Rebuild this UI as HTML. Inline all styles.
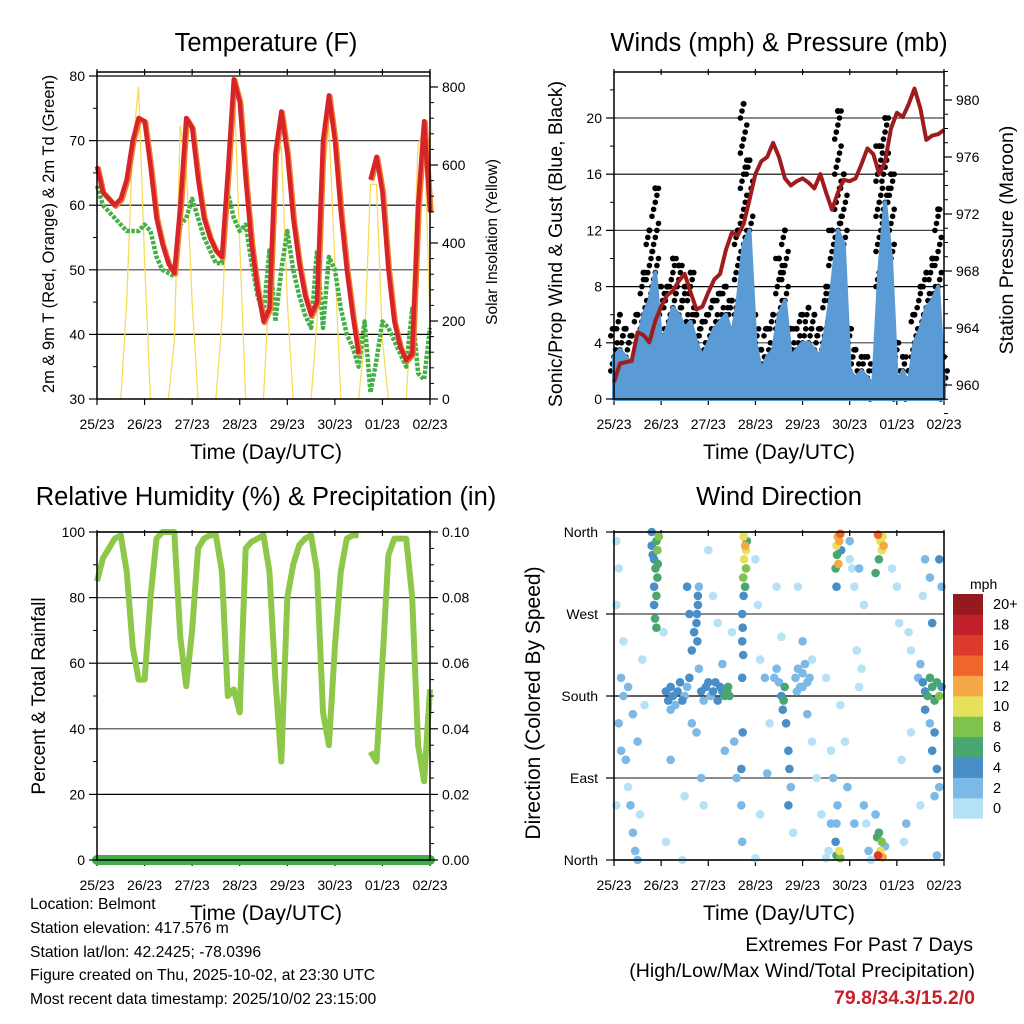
<!DOCTYPE html>
<html><head><meta charset="utf-8"><style>
html,body{margin:0;padding:0;background:#fff;}
svg{display:block;font-family:"Liberation Sans",Arial,sans-serif;}
</style></head><body>
<svg id="s" width="1024" height="1024" viewBox="0 0 1024 1024" xmlns="http://www.w3.org/2000/svg">
<g id="g"></g>
<g font-size="15.7" fill="#000">
<text x="30" y="909">Location: Belmont</text>
<text x="30" y="933">Station elevation: 417.576 m</text>
<text x="30" y="957">Station lat/lon: 42.2425; -78.0396</text>
<text x="30" y="980">Figure created on Thu, 2025-10-02, at 23:30 UTC</text>
<text x="30" y="1004">Most recent data timestamp: 2025/10/02 23:15:00</text>
</g>
<g font-size="19.5" text-anchor="end">
<text x="973" y="951">Extremes For Past 7 Days</text>
<text x="975" y="977">(High/Low/Max Wind/Total Precipitation)</text>
<text x="975" y="1004" fill="#c8202a" font-weight="bold">79.8/34.3/15.2/0</text>
</g>
</svg>
<script>
// ---- data (3-hour samples, t = 0..7 days) ----
const dayLabels=["25/23","26/23","27/23","28/23","29/23","30/23","01/23","02/23"];
const tempF=[66,62,61,60,61,64,70,73.5,73, 66,58,54,51,49.5,60,73.5,72, 64,58,55,53,52,65,79.5,76, 64,54,47,42,44,68,74.5,68, 58,51,46,43,45,70,77,70, 59,50,43,37,null,64,67.5,62, 50,42,38,36,37,60,73,59];
const dewF=[63,60,59,58,57,56,56,56,57, 56,52,50,49.5,49,57,58,61, 58,55,53,51,51,62,58,56, 57,51,46,43,53,42,50,56, 50,46,43,41,53,41,52,50, 44,40,38,35,42,31,36,42, 41,39,37,35,44,34,33,41];
const solar=[0,0,0,0,0,250,650,800,350, 0,0,0,0,150,700,600,250, 0,0,0,0,200,550,820,400, 0,0,0,0,300,600,650,250, 0,0,0,0,200,550,700,350, 0,0,0,0,150,550,550,150, 0,0,0,0,250,650,700,200];
const windMph=[3,3.5,3,2.5,4,6,7,9,4, 5,6.5,6,5,5.5,4,3,4, 5,5.5,6,4.5,7,11,12,4, 2,3,3.5,6,7,3,3.5,4, 4,3.5,3,5,8,12,11,2, 1.5,2,1.5,1,9,14,10,1, 2,1,4,5,6.5,7,8,1];
const gustMph=[5,6,5,4.5,6,9,12,15,8, 8,10,9.5,8,9,6,5.5,6, 7,7.5,8,7,12,21,17,6, 3.5,5,6,10,12,5,5,6, 6.5,6,5,8,12,20.5,16,5, 3.5,3,3,2,18,20,16,4, 3,2,6,8,9,10,13.5,3];
const pressMb=[960.2,961.5,961.6,961.7,963.7,963.5,963,964.5,965.5, 966.3,966.6,967.3,967.8,966.5,965.3,965.5,966.5, 967.4,967.8,969.5,970.7,970.5,971.3,973,974.8, 975.7,976,977,976,974.5,974,974.3,974.5, 974.2,973.8,974.8,973.5,972.3,973.5,974.4,974.3, 974.5,975.5,976.6,976.2,974.8,975.7,978,979.1, 978.8,979.7,980.8,979.4,977.2,977.5,977.6,977.9];
const rhPct=[85,92,95,98,99,88,65,55,55, 80,98,100,100,100,68,53,70, 95,98,99,99,88,50,52,45, 95,97,98,99,88,55,30,80, 90,96,98,99,88,45,35,65, 88,98,99,99,null,33,30,60, 93,98,98,98,80,35,24,52];
const precipIn=[0,0,0,0,0,0,0,0];
const dirTime=[0.80,0.85,0.90,0.88,0.92,0.85,0.95,0.90,0.82,0.93, 0.85,0.87,0.90,0.80,0.92,
 2.75,2.78,2.80,2.76,2.80,2.74,2.78,2.82,2.75,2.72, 2.73,2.72,2.74,2.72,2.73,
 4.75,4.78,4.72,4.80,4.73,4.76,4.70,4.72,4.82,4.78, 4.72,4.80,4.70,4.72,4.74,
 5.6,5.65,5.7,5.68,5.72,5.62,5.55,5.6,5.65,5.68, 5.62,5.7,5.75,5.58,5.55,
 1.1,1.15,1.2,1.25,1.3,1.35,1.4,1.45,1.5,1.55, 1.6,1.65,1.7,1.75,1.8,1.85,1.9,1.95,2.0,2.05, 2.1,2.15,2.2,2.25,2.3,2.35,2.4,2.45,2.42,1.2,
 3.55,3.6,3.62,3.58,3.5,3.65,3.7,3.72,3.45,3.4, 3.85,3.9,3.95,4.0,4.05,4.1,4.15,3.88,4.0,4.2,
 6.45,6.55,6.6,6.65,6.7,6.75,6.8,6.85,6.9,6.95, 6.6,6.7,6.8,6.75,6.85,6.9,6.5,6.3,6.9,6.95,
 0.05,0.1,0.05,0.15,0.2,0.1,0.25,0.3,0.35,0.4, 0.45,0.5,0.2,0.3,0.4,0.5,0.6,0.65,0.55,0.15,
 1.05,1.1,1.2,1.45,1.5,1.55,1.6,1.65,1.75,1.85, 1.9,2.0,2.1,2.2,2.3,2.35,2.5,2.55,2.6,2.7,
 2.72,2.7,3.0,3.05,3.1,3.2,3.3,3.0,3.1,3.25, 3.45,3.55,3.7,3.75,3.8,3.9,4.0,4.1,4.2,4.3,
 4.4,4.5,4.55,4.6,4.65,4.6,4.5,4.8,4.9,4.95, 5.0,5.05,5.1,5.15,5.2,5.25,5.3,5.35,5.4,5.45,
 5.0,5.2,5.3,5.1,5.9,6.0,6.05,6.1,6.15,6.2, 6.25,6.3,6.5,6.55,6.6,6.7,6.75,6.8,6.85,0.05,
 1.78,1.78,1.76,1.8,1.77];
const dirDeg=[345,330,350,320,310,300,355,290,335,325, 280,265,255,360,340,
 355,345,340,330,320,310,300,350,290,270, 255,240,225,200,140,
 355,350,345,358,335,325,320,300,340,10, 5,2,20,40,60,
 357,350,355,340,345,330,315,5,10,20, 30,3,15,25,50,
 185,175,190,180,170,185,195,175,180,190, 200,230,250,260,210,185,175,190,195,180, 185,195,175,190,185,180,185,180,190,165,
 180,175,190,165,195,150,120,100,210,200, 200,210,190,205,215,195,200,185,190,220,
 200,195,185,180,200,190,175,195,180,190, 165,150,140,120,100,80,215,230,330,300,
 350,320,280,200,180,150,110,80,60,30, 10,0,240,190,160,130,220,170,50,120,
 250,20,110,0,70,300,270,150,140,90, 60,340,290,260,215,120,250,130,90,60,
 20,100,330,280,220,200,150,2,50,95, 300,245,60,80,30,300,240,160,130,90,
 50,2,10,40,90,120,200,170,130,80, 350,320,300,230,190,210,60,40,10,0,
 330,320,280,40,320,300,260,110,20,40, 250,140,60,290,330,310,260,70,5,60,
 280,290,270,300,240];
const dirSpeed=[5,5,7,6,7,5,9,7,4,6, 5,7,6,4,8,
 10,12,10,10,8,9,7,6,4,4, 4,5,4,4,4,
 13,12,10,14,7,12,6,4,4,10, 6,9,4,3,2,
 14,11,11,10,13,7,6,16,10,8, 7,13,3,6,2,
 4,4,5,4,3,5,4,4,3,3, 4,4,4,5,3,4,2,4,5,3, 4,4,4,5,5,6,7,7,6,2,
 4,6,7,4,2,4,4,4,2,2, 2,2,2,2,3,2,2,3,3,1,
 3,4,5,7,6,7,6,7,8,5, 4,3,4,4,4,3,2,1,4,3,
 1,1,1,2,2,2,2,1,2,2, 3,2,1,2,3,2,1,1,1,3,
 1,1,3,1,1,4,4,2,2,2, 1,1,1,1,2,3,1,2,2,2,
 3,4,1,1,1,2,1,1,1,2, 1,1,4,2,1,1,2,2,1,1,
 1,1,1,2,2,1,1,1,1,2, 2,1,1,1,1,1,2,1,2,1,
 1,2,1,2,1,1,1,1,1,2, 1,1,1,1,2,3,4,3,3,1,
 4,4,5,3,4];
const speedLabels=["0","2","4","6","8","10","12","14","16","18","20+"];
const speedColors=["#b5e2f7","#7cb9e6","#4a8ec8","#4aa671","#7fc24c","#e6e05a","#f6a846","#f0652b","#dc3a2d","#c0202a","#951a1d"];

// ---- helpers ----
const NS="http://www.w3.org/2000/svg";
const root=document.getElementById('g');
function el(tag,attrs,parent,text){const e=document.createElementNS(NS,tag);for(const k in attrs)e.setAttribute(k,attrs[k]);if(text!==undefined)e.textContent=text;(parent||root).appendChild(e);return e;}
function lin(d0,d1,r0,r1){return v=>r0+(v-d0)*(r1-r0)/(d1-d0);}
function tIdx(i){return i*0.125;}
function linePath(xs,ys,vals){let d="",pen=false;vals.forEach((v,i)=>{if(v===null){pen=false;return;}d+=(pen?"L":"M")+xs(tIdx(i)).toFixed(1)+","+ys(v).toFixed(1);pen=true;});return d;}

function frame(x0,x1,y0,y1,name){
  const f=el('rect',{x:x0,y:y0,width:x1-x0,height:y1-y0,fill:'none',stroke:'#000','stroke-width':1.5});
  
  
}
function xAxis(x0,x1,y1,name,cx){
  const xs=lin(0,7,x0,x1);
  const g=el('g',{});
  
  
  dayLabels.forEach((lab,i)=>{
    const x=xs(i);
    el('line',{x1:x,x2:x,y1:y1,y2:y1+6,stroke:'#000','stroke-width':1.2},g);
    el('line',{x1:x,x2:x,y1:y1-330,y2:y1-324,stroke:'#000','stroke-width':1.2},g);
    const t=el('text',{x:x,y:y1+30,'font-size':14,'text-anchor':'middle'},g,lab);
    
    
  });
  const tt=el('text',{x:cx,y:y1+60,'font-size':21,'text-anchor':'middle'},g,'Time (Day/UTC)');
  
  
  return xs;
}
function title(x,y,txt,name){const t=el('text',{x:x,y:y,'font-size':25.5,'text-anchor':'middle'},root,txt);}
function yLabel(x,y,txt,size,name){const t=el('text',{x:x,y:y,'font-size':size,'text-anchor':'middle',transform:`rotate(-90 ${x} ${y})`},root,txt);}
function grid(x0,x1,y,dark){const l=el('line',{x1:x0,x2:x1,y1:y,y2:y,stroke:dark?'#000':'#444','stroke-width':1.2});}
function leftTicks(x0,ys,vals,fmt,minor){vals.forEach(v=>{const y=ys(v);el('line',{x1:x0-8,x2:x0,y1:y,y2:y,stroke:'#000','stroke-width':1.2});const t=el('text',{x:x0-12,y:y+5,'font-size':14,'text-anchor':'end'},root,fmt(v));});(minor||[]).forEach(v=>{const y=ys(v);el('line',{x1:x0-4,x2:x0,y1:y,y2:y,stroke:'#000','stroke-width':1});});}
function rightTicks(x1,ys,vals,fmt,minor){vals.forEach(v=>{const y=ys(v);el('line',{x1:x1,x2:x1+8,y1:y,y2:y,stroke:'#000','stroke-width':1.2});const t=el('text',{x:x1+12,y:y+5,'font-size':14,'text-anchor':'start'},root,fmt(v));});(minor||[]).forEach(v=>{const y=ys(v);el('line',{x1:x1,x2:x1+4,y1:y,y2:y,stroke:'#000','stroke-width':1});});}
function range(a,b,s){const r=[];for(let v=a;v<=b+1e-9;v+=s)r.push(+v.toFixed(4));return r;}

// ================= Panel 1: Temperature =================
(function(){
  const X0=97,X1=430,Y0=72,Y1=399;
  const ys=lin(30,80,399,76), ys2=lin(0,800,399,87);
  title(266,51,'Temperature (F)','temperature-title');
  [40,50,60,70].forEach(v=>grid(X0,X1,ys(v),v%20==0));
  grid(X0,X1,ys(80),true);
  const xs=xAxis(X0,X1,Y1,'temperature',266);
  const sol=el('path',{d:linePath(xs,ys2,solar),fill:'none',stroke:'#f7dc5a','stroke-width':1.3});
  
  
  const dw=el('path',{d:linePath(xs,ys,dewF),fill:'none',stroke:'#45b045','stroke-width':4.5,'stroke-linejoin':'round','stroke-dasharray':'3.5 1.5'});
  
  
  const t9=el('path',{d:linePath(xs,ys,tempF),fill:'none',stroke:'#f07f2a','stroke-width':5.5,'stroke-linejoin':'round',transform:'translate(1,1)'});
  
  
  const t2=el('path',{d:linePath(xs,ys,tempF),fill:'none',stroke:'#d7232a','stroke-width':4.5,'stroke-linejoin':'round'});
  
  
  frame(X0,X1,Y0,Y1,'temperature');
  leftTicks(X0,ys,range(30,80,10),v=>v,range(35,75,10));
  rightTicks(X1,ys2,range(0,800,200),v=>v,range(40,800,40));
  yLabel(54,234,'2m & 9m T (Red, Orange) & 2m Td (Green)',16.5,'temperature-y-axis-title');
  yLabel(497,242,'Solar Insolation (Yellow)',15.5,'solar-y-axis-title');
})();

// ================= Panel 2: Winds & Pressure =================
(function(){
  const X0=614,X1=944,Y0=72,Y1=399;
  const ys=lin(0,20,399,118), ys2=lin(960,980,385,100);
  title(779,51,'Winds (mph) & Pressure (mb)','winds-title');
  [4,8,12,16,20].forEach(v=>grid(X0,X1,ys(v),v%8==0));
  const xs=xAxis(X0,X1,Y1,'winds',779);
  const gd=el('g',{fill:'#000'});
  
  
  gustMph.forEach((g,i)=>{
    const lo=Math.max(0,windMph[i]-1);
    for(let v=lo,k=0;v<=g;v+=0.5,k++){
      el('circle',{cx:(xs(tIdx(i))+((k%5)-2)*1.6).toFixed(1),cy:ys(v).toFixed(1),r:2.8},gd);
    }
    el('circle',{cx:xs(tIdx(i)).toFixed(1),cy:ys(g).toFixed(1),r:3},gd);
  });
  let d="M"+xs(0)+","+ys(0);
  windMph.forEach((v,i)=>{d+="L"+xs(tIdx(i)).toFixed(1)+","+ys(v).toFixed(1);});
  d+="L"+xs(7)+","+ys(0)+"Z";
  const wa=el('path',{d:d,fill:'#5a9bd5',stroke:'#5a9bd5','stroke-width':4,'stroke-linejoin':'round'});
  
  
  const pl=el('path',{d:linePath(xs,ys2,pressMb),fill:'none',stroke:'#a01c1c','stroke-width':4,'stroke-linejoin':'round'});
  
  
  frame(X0,X1,Y0,Y1,'winds');
  leftTicks(X0,ys,range(0,20,4),v=>v,range(2,22,4));
  rightTicks(X1,ys2,range(960,980,4),v=>v,range(958,982,1));
  yLabel(562,244,'Sonic/Prop Wind & Gust (Blue, Black)',19.5,'wind-y-axis-title');
  yLabel(1013,240,'Station Pressure (Maroon)',19.5,'pressure-y-axis-title');
})();

// ================= Panel 3: RH & Precip =================
(function(){
  const X0=97,X1=430,Y0=532,Y1=860;
  const ys=lin(0,100,860,532), ys2=lin(0,0.1,860,532);
  title(266,505,'Relative Humidity (%) & Precipitation (in)','humidity-title');
  [20,40,60,80,100].forEach(v=>grid(X0,X1,ys(v),v%40!=0));
  const xs=xAxis(X0,X1,Y1,'humidity',266);
  const rl=el('path',{d:linePath(xs,ys,rhPct),fill:'none',stroke:'#8dc84a','stroke-width':6,'stroke-linejoin':'round'});
  
  
  let pd="";precipIn.forEach((v,i)=>{pd+=(i?"L":"M")+xs(i)+","+ys2(v);});
  const pp=el('path',{d:pd,fill:'none',stroke:'#3fae49','stroke-width':10,'stroke-linecap':'round'});
  
  
  frame(X0,X1,Y0,Y1,'humidity');
  leftTicks(X0,ys,range(0,100,20),v=>v,range(10,90,20));
  rightTicks(X1,ys2,range(0,0.1,0.02),v=>v.toFixed(2),range(0.01,0.09,0.02).concat(range(0.005,0.1,0.01)));
  yLabel(45,696,'Percent & Total Rainfall',19,'humidity-y-axis-title');
})();

// ================= Panel 4: Wind Direction =================
(function(){
  const X0=614,X1=944,Y0=532,Y1=860;
  const ys=lin(0,360,860,532);
  title(779,505,'Wind Direction','wind-direction-title');
  [0,90,180,270,360].forEach(v=>grid(X0,X1,ys(v),v%180==0));
  const xs=xAxis(X0,X1,Y1,'wind-direction',779);
  const dg=el('g',{});
  
  
  const order=dirSpeed.map((s,i)=>i).sort((a,b)=>dirSpeed[a]-dirSpeed[b]);
  order.forEach(i=>{
    const bin=Math.min(10,Math.floor(dirSpeed[i]/2));
    const c=el('circle',{cx:xs(dirTime[i]).toFixed(1),cy:ys(dirDeg[i]).toFixed(1),r:4.3,fill:speedColors[bin]},dg);
    
    
  });
  frame(X0,X1,Y0,Y1,'wind-direction');
  const dl=["North","East","South","West","North"];
  [0,90,180,270,360].forEach((v,i)=>{const y=ys(v);el('line',{x1:X0-8,x2:X0,y1:y,y2:y,stroke:'#000','stroke-width':1.2});
    const t=el('text',{x:X0-16,y:y+5,'font-size':14,'text-anchor':'end'},root,dl[i]);
    
    });
  yLabel(540,703,'Direction (Colored By Speed)',21,'direction-y-axis-title');
  const cb=el('g',{});
  
  
  const bx=953,bTop=594,bh=20.4;
  el('text',{x:970,y:589,'font-size':14,'text-anchor':'start'},cb,'mph');
  speedColors.forEach((c,i)=>{
    const y=bTop+(10-i)*bh;
    const r=el('rect',{x:bx,y:y.toFixed(1),width:30,height:bh+0.3,fill:c},cb);
    
    
    const t=el('text',{x:993,y:(y+bh/2+5).toFixed(1),'font-size':14.5},cb,speedLabels[i]);
    
    
  });
})();
</script>
</body></html>
